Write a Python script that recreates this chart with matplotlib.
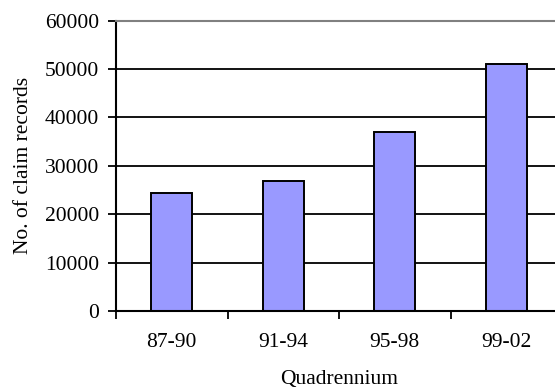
import matplotlib
matplotlib.use("Agg")
import matplotlib.pyplot as plt
from matplotlib.ticker import FixedLocator

# Claim records per quadrennium
periods = ["87-90", "91-94", "95-98", "99-02"]
claim_records = [24300, 26900, 37000, 51000]
y_ticks = [0, 10000, 20000, 30000, 40000, 50000, 60000]

plt.rcParams["font.family"] = ["Liberation Serif", "DejaVu Serif"]
FS = 15.5

fig = plt.figure(figsize=(5.55, 3.89), dpi=100)
ax = fig.add_axes([116 / 555, 1 - 311 / 389, 446 / 555, (311 - 20.5) / 389])

x = list(range(len(periods)))
ax.bar(x, claim_records, width=0.365, color="#9999FF", edgecolor="black",
       linewidth=1.4, zorder=2)

ax.set_xlim(-0.5, len(periods) - 0.5)
ax.set_ylim(0, 60000)

# Category boundaries carry tick marks, centres carry labels
ax.xaxis.set_major_locator(FixedLocator([i - 0.5 for i in range(len(periods) + 1)]))
ax.xaxis.set_minor_locator(FixedLocator(x))
ax.set_xticklabels([])
ax.set_xticklabels(periods, minor=True)
ax.tick_params(axis="x", which="major", direction="out", length=6, width=1.3, color="black")
ax.tick_params(axis="x", which="minor", length=0, pad=16, labelsize=FS)

ax.set_yticks(y_ticks)
ax.set_yticklabels([str(v) for v in y_ticks])
ax.tick_params(axis="y", direction="out", length=6, width=1.3, pad=6, labelsize=FS)

ax.set_axisbelow(True)
ax.yaxis.grid(True, color="black", linewidth=1.3)

for side in ("left", "bottom"):
    ax.spines[side].set_color("black")
    ax.spines[side].set_linewidth(1.5)
ax.spines["top"].set_color("#808080")
ax.spines["top"].set_linewidth(1.5)
ax.spines["right"].set_visible(False)

ax.set_xlabel("Quadrennium", fontsize=FS, labelpad=13)
ax.set_ylabel("No. of claim records", fontsize=FS, labelpad=9)

fig.savefig("out.png", dpi=100)
